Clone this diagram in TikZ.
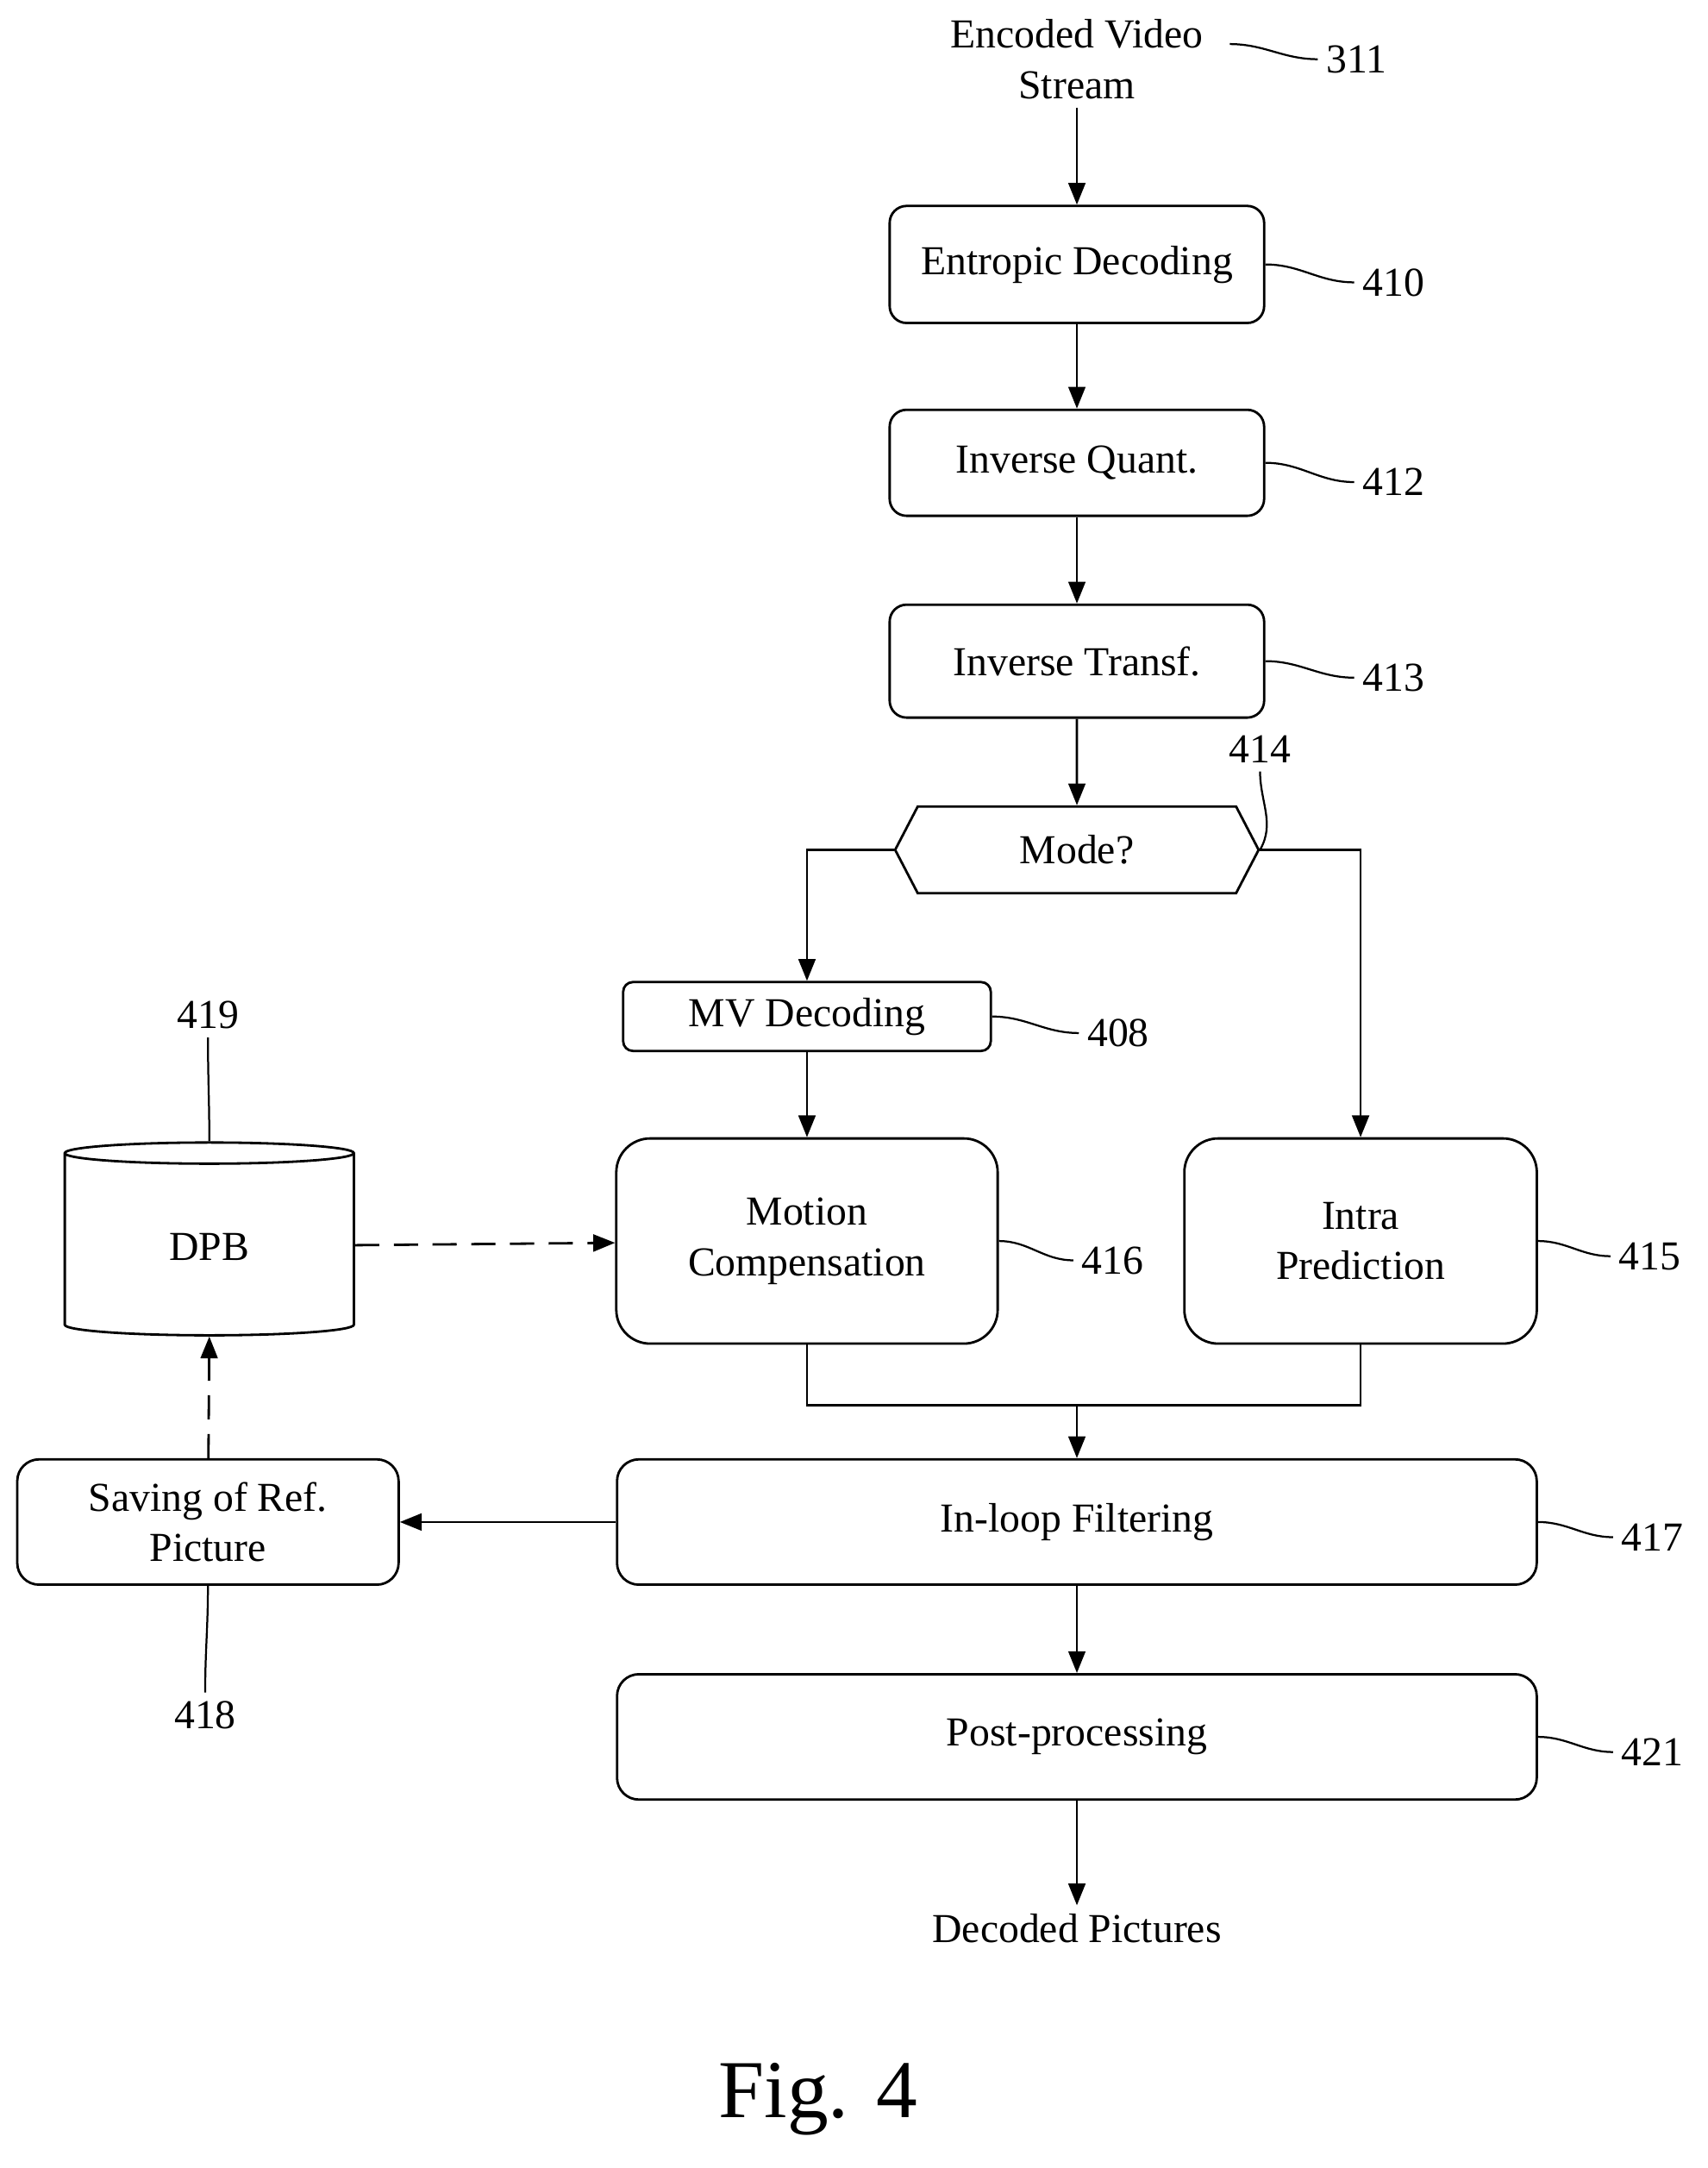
\documentclass[tikz,border=0pt]{standalone}
\usepackage{fontspec}
\setmainfont{Liberation Serif}
\usetikzlibrary{arrows.meta,positioning,shapes.geometric,shapes.symbols}

\tikzset{
  blk/.style={draw, line width=1pt, rounded corners=7pt, align=center, inner sep=0pt},
  lbl/.style={font=\fontsize{17}{20}\selectfont},
  flow/.style={line width=1pt, -{Triangle[length=9pt,width=7pt]}},
  squig/.style={line width=0.8pt},
}

\begin{document}
\begin{tikzpicture}[x=0.02cm, y=-0.02cm, every node/.style={font=\fontsize{17}{21}\selectfont}]
  \useasboundingbox (0,0) rectangle (1240,1574);

  % ---- main chain ----
  \node[align=center] (inp) at (782,43) {Encoded Video\\Stream};
  \node[blk, minimum width=5.44cm, minimum height=1.7cm] (ent) at (782,192) {Entropic Decoding};
  \node[blk, minimum width=5.44cm, minimum height=1.54cm] (iq) at (782,336) {Inverse Quant.};
  \node[blk, minimum width=5.44cm, minimum height=1.64cm] (it) at (782,480) {Inverse Transf.};
  \node[draw, line width=1pt, signal, signal to=east and west, minimum width=5.28cm,
        minimum height=1.26cm, signal pointer angle=125, inner sep=0pt] (mode) at (782,617) {Mode?};

  % ---- prediction ----
  \node[blk, rounded corners=4pt, minimum width=5.34cm, minimum height=1cm] (mv) at (586,738) {MV Decoding};
  \node[blk, rounded corners=14pt, minimum width=5.54cm, minimum height=2.98cm] (mc) at (586,901) {Motion\\Compensation};
  \node[blk, rounded corners=14pt, minimum width=5.12cm, minimum height=2.98cm] (ip) at (988,901) {Intra\\Prediction};
  \node[draw, line width=1pt, cylinder, shape border rotate=90, aspect=0.22,
        minimum width=4.2cm, minimum height=2.8cm] (dpb) at (152,905) {DPB};

  % ---- filtering ----
  \node[blk, rounded corners=9pt, minimum width=13.36cm, minimum height=1.82cm] (ilf) at (782,1105) {In-loop Filtering};
  \node[blk, rounded corners=9pt, minimum width=5.54cm, minimum height=1.82cm] (sav) at (151,1105) {Saving of Ref.\\Picture};
  \node[blk, rounded corners=9pt, minimum width=13.36cm, minimum height=1.82cm] (pp) at (782,1261) {Post-processing};
  \node (out) at (782,1400) {Decoded Pictures};
  \node[font=\fontsize{34}{40}\selectfont] (fig) at (594,1524) {Fig. 4};

  % ---- connectors ----
  \draw[flow] (inp) -- (ent);
  \draw[flow] (ent) -- (iq);
  \draw[flow] (iq) -- (it);
  \draw[flow] (it) -- (mode);
  \draw[flow] (mode.west) -| (mv.north);
  \draw[flow] (mode.east) -| (ip.north);
  \draw[flow] (mv) -- (mc);
  \coordinate (jn) at (782,1020);
  \draw[line width=1pt] (mc.south) |- (jn) -| (ip.south);
  \draw[flow] (jn) -- (ilf);
  \draw[flow] (ilf) -- (pp);
  \draw[flow] (pp) -- (out);
  \draw[flow] (ilf) -- (sav);
  \draw[flow, dashed, dash pattern=on 10pt off 6pt] (dpb) -- (mc);
  \draw[flow, dashed, dash pattern=on 10pt off 6pt] (sav) -- (dpb.south);

  % ---- reference numerals ----
  \node (n311) at (985,43) {311};
  \node (n410) at (1012,205) {410};
  \node (n412) at (1012,350) {412};
  \node (n413) at (1012,492) {413};
  \node (n414) at (915,544) {414};
  \node (n408) at (812,750) {408};
  \node (n416) at (808,915) {416};
  \node (n415) at (1198,912) {415};
  \node (n417) at (1200,1116) {417};
  \node (n421) at (1200,1272) {421};
  \node (n419) at (151,737) {419};
  \node (n418) at (149,1245) {418};

  \draw[squig] (893,32) to[out=0,in=180] (n311.west);
  \draw[squig] (ent.east) to[out=0,in=180] (n410.west);
  \draw[squig] (iq.east) to[out=0,in=180] (n412.west);
  \draw[squig] (it.east) to[out=0,in=180] (n413.west);
  \draw[squig] (mode.east) to[out=60,in=-90] (n414.south);
  \draw[squig] (mv.east) to[out=0,in=180] (n408.west);
  \draw[squig] (mc.east) to[out=0,in=180] (n416.west);
  \draw[squig] (ip.east) to[out=0,in=180] (n415.west);
  \draw[squig] (ilf.east) to[out=0,in=180] (n417.west);
  \draw[squig] (pp.east) to[out=0,in=180] (n421.west);
  \draw[squig] (n419.south) to[out=-90,in=90] (dpb.north);
  \draw[squig] (sav.south) to[out=-90,in=90] (n418.north);
\end{tikzpicture}
\end{document}
